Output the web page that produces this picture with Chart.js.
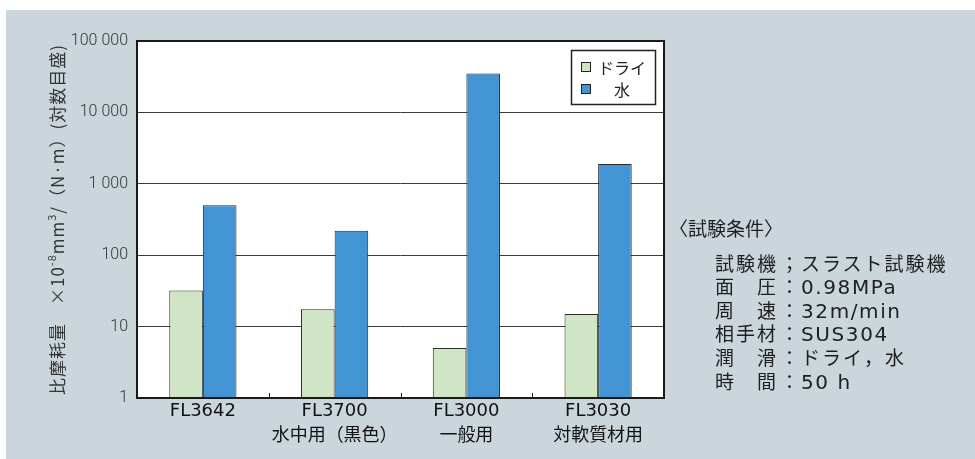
<!DOCTYPE html>
<html><head><meta charset="utf-8">
<script src="https://cdn.jsdelivr.net/npm/chart.js@4/dist/chart.umd.min.js"></script>
<style>
html,body{margin:0;padding:0;background:#fff;}
#wrap{position:relative;width:975px;height:459px;overflow:hidden;}
#panel{position:absolute;left:6px;top:10px;right:0;bottom:0;background:#cad6dc;}
#c{position:absolute;left:0;top:0;}
#cond{position:absolute;left:669px;top:218px;font-family:"DejaVu Sans","Noto Sans CJK JP",sans-serif;color:#1e1e1e;font-size:19px;line-height:23.6px;white-space:pre;}
#cond .h{margin-bottom:11px;letter-spacing:0px;}
#cond .row{padding-left:46px;letter-spacing:2px;}
#cond .lab{display:inline-block;width:65px;letter-spacing:2px;}
#cond .sep{display:inline-block;width:21px;}
#cond .lat{font-size:20px;letter-spacing:1.6px;}
</style>
</head><body>
<div id="wrap">
<div id="panel"></div>
<canvas id="c" width="975" height="459"></canvas>
<div id="cond"></div>
</div>
<script>
// ---- data ----
const productNames = ['FL3642', 'FL3700', 'FL3000', 'FL3030'];
const productUses  = ['', '水中用（黒色）', '一般用', '対軟質材用'];
const seriesNames  = ['ドライ', '水'];
const dryValues    = [32, 17.5, 5, 15];
const waterValues  = [500, 220, 35000, 1900];
const yTickValues  = [1, 10, 100, 1000, 10000, 100000];
const yTickLabels  = ['1', '10', '100', '1 000', '10 000', '100 000'];
const yTitleParts  = [['比摩耗量　×10', false], ['-8', true], ['mm', false], ['3', true], ['/（N·m）(対数目盛)', false]];
const condTitle    = '〈試験条件〉';
const condLabels   = ['試験機', '面　圧', '周　速', '相手材', '潤　滑', '時　間'];
const condSeps     = ['；', '：', '：', '：', '：', '：'];
const condValues   = ['スラスト試験機', '0.98MPa', '32m/min', 'SUS304', 'ドライ，水', '50 h'];

// ---- conditions text ----
(function(){
  const el = document.getElementById('cond');
  let html = '<div class="h">' + condTitle + '</div>';
  for (let i = 0; i < condLabels.length; i++) {
    const lat = /^[\x00-\x7f]+$/.test(condValues[i]) ? ' class="lat"' : '';
    html += '<div class="row"><span class="lab">' + condLabels[i] + '</span><span class="sep">' + condSeps[i] + '</span><span' + lat + '>' + condValues[i] + '</span></div>';
  }
  el.innerHTML = html;
})();

const colors = { dry: '#cfe5c5', water: '#4394d3', edge: '#2a2a2a' };
const latinFont = '"DejaVu Sans", "Noto Sans CJK JP", sans-serif';

const plotBg = {
  id: 'plotBg',
  beforeDraw(chart) {
    const {ctx, chartArea: a} = chart;
    ctx.save();
    ctx.fillStyle = '#ffffff';
    ctx.fillRect(a.left, a.top, a.right - a.left, a.bottom - a.top);
    ctx.restore();
  }
};

const frame = {
  id: 'frame',
  afterDatasetsDraw(chart) {
    const {ctx, chartArea: a} = chart;
    const xs = chart.scales.x;
    ctx.save();
    ctx.strokeStyle = '#1a1a1a';
    ctx.lineWidth = 1;
    for (let i = 0; i < productNames.length - 1; i++) {
      const bx = Math.round((xs.getPixelForValue(i) + xs.getPixelForValue(i + 1)) / 2) + 0.5;
      ctx.beginPath();
      ctx.moveTo(bx, a.bottom);
      ctx.lineTo(bx, a.bottom - 5);
      ctx.stroke();
    }
    ctx.lineWidth = 2;
    ctx.strokeRect(a.left, a.top, a.right - a.left, a.bottom - a.top);
    ctx.restore();
  }
};

const boxLegend = {
  id: 'boxLegend',
  afterDraw(chart) {
    const {ctx, chartArea: a} = chart;
    const x0 = a.right - 93, y0 = a.top + 9, w = 84, h = 54;
    ctx.save();
    ctx.fillStyle = '#fff';
    ctx.fillRect(x0, y0, w, h);
    ctx.strokeStyle = '#222';
    ctx.lineWidth = 1.5;
    ctx.strokeRect(x0 + 0.5, y0 + 0.5, w, h);
    const rows = [y0 + 17, y0 + 39];
    ctx.font = '16px "Noto Sans CJK JP", sans-serif';
    ctx.textBaseline = 'middle';
    ctx.textAlign = 'center';
    chart.data.datasets.forEach((ds, i) => {
      const sy = rows[i];
      ctx.fillStyle = ds.backgroundColor;
      ctx.fillRect(x0 + 10, sy - 5, 10, 10);
      ctx.strokeStyle = '#222';
      ctx.lineWidth = 1;
      ctx.strokeRect(x0 + 10.5, sy - 4.5, 9, 9);
      ctx.fillStyle = '#222';
      ctx.fillText(ds.label, x0 + 51, sy + 1);
    });
    ctx.restore();
  }
};

const yTitle = {
  id: 'yTitle',
  afterDraw(chart) {
    const {ctx, chartArea: a} = chart;
    const cx = 58, cy = (a.top + a.bottom) / 2;
    const mainFont = '17px "Noto Sans CJK JP", sans-serif';
    const supFont = '11px "Noto Sans CJK JP", sans-serif';
    ctx.save();
    ctx.translate(cx, cy);
    ctx.rotate(-Math.PI / 2);
    ctx.letterSpacing = '1px';
    let total = 0;
    yTitleParts.forEach(([t, sup]) => { ctx.font = sup ? supFont : mainFont; total += ctx.measureText(t).width; });
    let x = -total / 2;
    ctx.fillStyle = '#333';
    ctx.textBaseline = 'middle';
    ctx.textAlign = 'left';
    yTitleParts.forEach(([t, sup]) => {
      ctx.font = sup ? supFont : mainFont;
      ctx.fillText(t, x, sup ? -6 : 0);
      x += ctx.measureText(t).width;
    });
    ctx.restore();
  }
};

new Chart(document.getElementById('c'), {
  type: 'bar',
  data: {
    labels: productNames.map((n, i) => [n, productUses[i]]),
    datasets: [
      { label: seriesNames[0], data: dryValues, backgroundColor: colors.dry, borderColor: colors.edge, borderWidth: 1 },
      { label: seriesNames[1], data: waterValues, backgroundColor: colors.water, borderColor: colors.edge, borderWidth: 1 }
    ]
  },
  options: {
    responsive: false,
    animation: false,
    devicePixelRatio: 1,
    layout: { padding: { top: 41, right: 311, left: 0, bottom: 0 } },
    datasets: { bar: { categoryPercentage: 0.51, barPercentage: 1.0 } },
    plugins: { legend: { display: false }, tooltip: { enabled: false } },
    scales: {
      x: {
        type: 'category',
        offset: true,
        grid: { display: false, drawTicks: false },
        border: { display: false },
        ticks: { color: '#111', padding: 1, font: { family: latinFont, size: 18, lineHeight: 1.38 }, maxRotation: 0, autoSkip: false },
        afterFit(s) { s.height = 61; }
      },
      y: {
        type: 'logarithmic',
        min: 1,
        max: 100000,
        afterBuildTicks(s) { s.ticks = yTickValues.map(v => ({ value: v })); },
        grid: { color: '#3a3a3a', lineWidth: 1, drawTicks: false },
        border: { display: false },
        ticks: {
          color: '#333',
          padding: 9,
          font: { family: 'Roboto', weight: '300', size: 16 },
          callback(v) { const i = yTickValues.indexOf(v); return i >= 0 ? yTickLabels[i] : ''; }
        },
        afterFit(s) { s.width = 137; }
      }
    }
  },
  plugins: [plotBg, frame, boxLegend, yTitle]
});
</script>
</body></html>
